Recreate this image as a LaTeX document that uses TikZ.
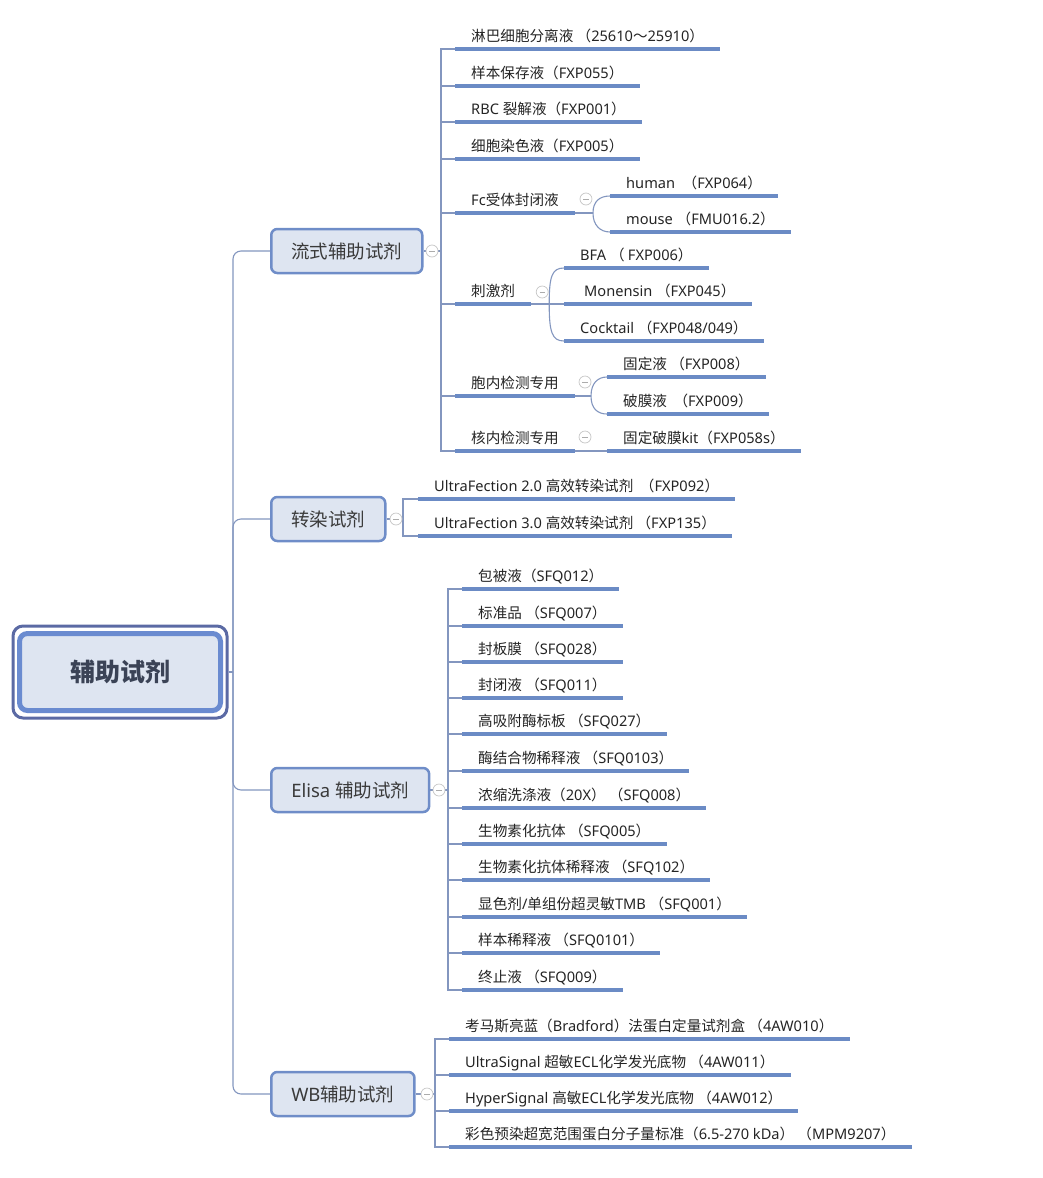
\documentclass[tikz,border=0pt]{standalone}
\usepackage{fontspec}
\setmainfont{Noto Sans}
\newfontfamily\latinfont{Noto Sans}
\newfontfamily\cjkfont{Noto Sans CJK SC}
% mark CJK ideographs, symbols and full-width forms as one class
\newcount\cjkpos
\def\cjkrange#1#2{\cjkpos=#1
  \loop \XeTeXcharclass\cjkpos=7 \ifnum\cjkpos<#2 \advance\cjkpos by 1 \repeat}
\cjkrange{"3000}{"303F}
\cjkrange{"4E00}{"9FFF}
\cjkrange{"FF00}{"FFEF}
% switch between Latin and CJK faces at script boundaries
\XeTeXinterchartokenstate=1
\XeTeXinterchartoks 0 7 = {\cjkfont}
\XeTeXinterchartoks 4095 7 = {\cjkfont}
\XeTeXinterchartoks 7 0 = {\latinfont}
\XeTeXinterchartoks 4095 0 = {\latinfont}
\definecolor{boxfill}{HTML}{DEE5F1}
\definecolor{boxline}{HTML}{6F8DC8}
\definecolor{rootline}{HTML}{5B6AA4}
\definecolor{rootinner}{HTML}{6A8BD0}
\definecolor{roottext}{HTML}{3B4356}
\definecolor{barblue}{HTML}{6B8BC5}
\definecolor{linkblue}{HTML}{8396BF}
\definecolor{inkgray}{HTML}{242424}
\tikzset{
  link/.style={draw=linkblue, line width=1.1pt},
  uline/.style={draw=barblue, line width=4pt},
  leaf/.style={anchor=south west, inner xsep=16pt, inner ysep=3.5pt, text height=11pt, text depth=3.6pt,
    text=inkgray, font=\fontsize{14.6}{17}\selectfont,
    append after command={(\tikzlastnode.south west) edge[uline] (\tikzlastnode.south east)}},
  topic/.style={anchor=west, draw=boxline, line width=2.5pt, fill=boxfill, rounded corners=6pt,
    inner xsep=20pt, minimum height=44pt, text=inkgray!90, font=\fontsize{18.5}{22}\selectfont},
  rootframe/.style={draw=rootline, line width=3pt, rounded corners=10pt, minimum width=214pt, minimum height=92pt, inner sep=0pt},
  rootbox/.style={draw=rootinner, line width=5pt, fill=boxfill, rounded corners=8pt, minimum width=201pt, minimum height=77pt,
    text=roottext, font=\fontsize{25}{30}\selectfont\bfseries},
  fold/.style={circle, draw=gray!45, fill=white, line width=0.7pt, minimum size=12pt, inner sep=0pt,
    path picture={\draw[gray!65, line width=0.8pt] ([xshift=-2.7pt]path picture bounding box.center) -- ([xshift=2.7pt]path picture bounding box.center);}},
}
\begin{document}
\begin{tikzpicture}[x=1pt, y=-1pt]
\useasboundingbox (0,0) rectangle (1042,1178);
% root and main topics
\node[rootframe] (rootout) at (120,672) {};
\node[rootbox] (root) at (120,672) {辅助试剂};
\node[topic] (flow) at (270,251) {流式辅助试剂};
\node[topic] (trans) at (270,519) {转染试剂};
\node[topic] (elisa) at (270,790) {Elisa 辅助试剂};
\node[topic] (wb) at (270,1094) {WB辅助试剂};
\coordinate (trunk) at (233,672);
\draw[link] (rootout.east) -- (trunk);
\draw[link, rounded corners=8pt] (trunk) |- (flow.west);
\draw[link, rounded corners=8pt] (trunk) |- (trans.west);
\draw[link, rounded corners=8pt] (trunk) |- (elisa.west);
\draw[link, rounded corners=8pt] (trunk) |- (wb.west);

% flow cytometry
\node[leaf] (f1) at (455,49) {淋巴细胞分离液 （25610～25910）};
\node[leaf] (f2) at (455,86) {样本保存液（FXP055）};
\node[leaf] (f3) at (455,122) {RBC 裂解液（FXP001）};
\node[leaf] (f4) at (455,159) {细胞染色液（FXP005）};
\node[leaf] (fc) at (455,213) {Fc受体封闭液};
\node[leaf] (fch) at (610,196) {human\ \ （FXP064）};
\node[leaf] (fcm) at (610,232) {mouse （FMU016.2）};
\node[leaf] (stim) at (455,304) {刺激剂};
\node[leaf] (stb) at (564,268) {BFA （ FXP006）};
\node[leaf] (stm) at (564,304) {\hspace*{4pt}Monensin （FXP045）};
\node[leaf] (stc) at (564,341) {Cocktail （FXP048/049）};
\node[leaf] (intra) at (455,396) {胞内检测专用};
\node[leaf] (ina) at (607,377) {固定液 （FXP008）};
\node[leaf] (inb) at (607,414) {破膜液\ \ （FXP009）};
\node[leaf] (nuc) at (455,451) {核内检测专用};
\node[leaf] (nua) at (607,451) {固定破膜kit（FXP058s）};
\coordinate (fbar) at (441,251);
\draw[link] (flow.east) -- (fbar);
\draw[link] (fbar) |- (f1.south west);
\draw[link] (fbar) |- (f2.south west);
\draw[link] (fbar) |- (f3.south west);
\draw[link] (fbar) |- (f4.south west);
\draw[link] (fbar) |- (fc.south west);
\draw[link] (fbar) |- (stim.south west);
\draw[link] (fbar) |- (intra.south west);
\draw[link] (fbar) |- (nuc.south west);
\draw[link] (fc.south east) -- ++(18,0) coordinate (fcj);
\draw[link] (fcj) .. controls +(0,-12) and +(-10,0) .. (fch.south west);
\draw[link] (fcj) .. controls +(0,12) and +(-10,0) .. (fcm.south west);
\draw[link] (stim.south east) -- ++(18,0) coordinate (stj);
\draw[link] (stj) .. controls +(0,-28) and +(-12,0) .. (stb.south west);
\draw[link] (stj) -- (stm.south west);
\draw[link] (stj) .. controls +(0,28) and +(-12,0) .. (stc.south west);
\draw[link] (intra.south east) -- ++(16,0) coordinate (inj);
\draw[link] (inj) .. controls +(0,-13) and +(-9,0) .. (ina.south west);
\draw[link] (inj) .. controls +(0,13) and +(-9,0) .. (inb.south west);
\draw[link] (nuc.south east) -- (nua.south west);
\node[fold] (flowfold) at (432,251) {};
\node[fold] (fcfold) at ([xshift=11pt,yshift=14pt]fc.south east) {};
\node[fold] (stfold) at ([xshift=11pt,yshift=12pt]stim.south east) {};
\node[fold] (infold) at ([xshift=10pt,yshift=14pt]intra.south east) {};
\node[fold] (nufold) at ([xshift=10pt,yshift=14pt]nuc.south east) {};

% transfection
\node[leaf] (t1) at (418,499) {UltraFection 2.0 高效转染试剂\ \ （FXP092）};
\node[leaf] (t2) at (418,536) {UltraFection 3.0 高效转染试剂 （FXP135）};
\coordinate (tbar) at (403,519);
\draw[link] (trans.east) -- (tbar);
\draw[link] (tbar) |- (t1.south west);
\draw[link] (tbar) |- (t2.south west);
\node[fold] (transfold) at (396,519) {};

% elisa
\node[leaf] (e1) at (462,589) {包被液（SFQ012）};
\node[leaf] (e2) at (462,626) {标准品 （SFQ007）};
\node[leaf] (e3) at (462,662) {封板膜 （SFQ028）};
\node[leaf] (e4) at (462,698) {封闭液 （SFQ011）};
\node[leaf] (e5) at (462,734) {高吸附酶标板 （SFQ027）};
\node[leaf] (e6) at (462,771) {酶结合物稀释液 （SFQ0103）};
\node[leaf] (e7) at (462,808) {浓缩洗涤液（20X） （SFQ008）};
\node[leaf] (e8) at (462,844) {生物素化抗体 （SFQ005）};
\node[leaf] (e9) at (462,880) {生物素化抗体稀释液 （SFQ102）};
\node[leaf] (e10) at (462,917) {显色剂/单组份超灵敏TMB （SFQ001）};
\node[leaf] (e11) at (462,953) {样本稀释液 （SFQ0101）};
\node[leaf] (e12) at (462,990) {终止液 （SFQ009）};
\coordinate (ebar) at (448,790);
\draw[link] (elisa.east) -- (ebar);
\draw[link] (ebar) |- (e1.south west);
\draw[link] (ebar) |- (e2.south west);
\draw[link] (ebar) |- (e3.south west);
\draw[link] (ebar) |- (e4.south west);
\draw[link] (ebar) |- (e5.south west);
\draw[link] (ebar) |- (e6.south west);
\draw[link] (ebar) |- (e7.south west);
\draw[link] (ebar) |- (e8.south west);
\draw[link] (ebar) |- (e9.south west);
\draw[link] (ebar) |- (e10.south west);
\draw[link] (ebar) |- (e11.south west);
\draw[link] (ebar) |- (e12.south west);
\node[fold] (elisafold) at (439,790) {};

% western blot
\node[leaf] (w1) at (449,1039) {考马斯亮蓝（Bradford）法蛋白定量试剂盒 （4AW010）};
\node[leaf] (w2) at (449,1075) {UltraSignal 超敏ECL化学发光底物 （4AW011）};
\node[leaf] (w3) at (449,1111) {HyperSignal 高敏ECL化学发光底物 （4AW012）};
\node[leaf] (w4) at (449,1147) {彩色预染超宽范围蛋白分子量标准（6.5-270 kDa） （MPM9207）};
\coordinate (wbar) at (435,1094);
\draw[link] (wb.east) -- (wbar);
\draw[link] (wbar) |- (w1.south west);
\draw[link] (wbar) |- (w2.south west);
\draw[link] (wbar) |- (w3.south west);
\draw[link] (wbar) |- (w4.south west);
\node[fold] (wbfold) at (427,1094) {};
\end{tikzpicture}
\end{document}
